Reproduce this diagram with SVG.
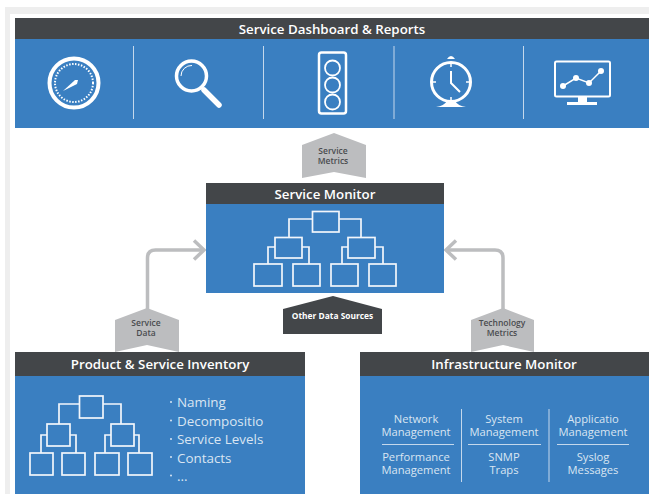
<svg xmlns="http://www.w3.org/2000/svg" width="649" height="494" viewBox="0 0 649 494">
<style>
text{font-family:"Open Sans","Noto Sans","Liberation Sans",sans-serif;text-anchor:middle}
.hd{fill:#434649}.bl{fill:#3a7fc1}
.ht{fill:#fff;font-size:13.300px;font-weight:600}
.tag{fill:#bcbdbf}
.tt{fill:#4a4c4f;font-size:8.500px;font-weight:600}
.it{fill:#d9e5f2;font-size:11.200px}
.li{fill:#d9e5f2;font-size:13.400px;text-anchor:start}
.dv{stroke:#c4d8ec;stroke-width:1;fill:none}
.wb{fill:none;stroke:#f2f6fb;stroke-width:1.700}
.ic{fill:none;stroke:#fff}
.con{fill:none;stroke:#bcbdbf;stroke-width:3.500}
</style>
<rect width="649" height="494" fill="#fff"/>
<path d="M5 7H649V14H10V494H5Z" fill="#eee"/>

<g id="dashboard">
<rect class="hd" x="15" y="18" width="634" height="21"/>
<rect class="bl" x="15" y="39" width="634" height="89"/>
<text class="ht" x="332" y="34">Service Dashboard &amp; Reports</text>
<path class="dv" d="M133.500 46V119M263.500 46V119M394 46V119M523.500 46V119"/>
<g id="icon-gauge">
<circle class="ic" cx="74" cy="83" r="24.500" stroke-width="4"/>
<circle class="ic" cx="74" cy="83" r="19" stroke-width="2" stroke-dasharray="1.500 1.500"/>
<path d="M63 91L75 80L78 80L77 84Z" fill="#fff"/>
</g>
<g id="icon-search">
<circle class="ic" cx="191.500" cy="76" r="15" stroke-width="3.500"/>
<path class="ic" d="M181 76A10.500 10.500 0 0 1 192 65.500" stroke-width="1"/>
<path class="ic" d="M204 90L219 105" stroke-width="5.500" stroke-linecap="round"/>
</g>
<g id="icon-light">
<rect class="ic" x="319" y="52.500" width="27" height="61" rx="2.500" stroke-width="2.500"/>
<circle class="ic" cx="332.500" cy="68" r="7.500" stroke-width="1.800"/>
<circle class="ic" cx="332.500" cy="85" r="7.500" stroke-width="1.800"/>
<circle class="ic" cx="332.500" cy="102" r="7.500" stroke-width="1.800"/>
</g>
<g id="icon-clock">
<circle class="ic" cx="451" cy="82" r="19.500" stroke-width="3"/>
<path class="ic" d="M451 71V83L460 92" stroke-width="2"/>
<path class="ic" d="M451 64V67M451 97V100M433 82H436M466 82H469" stroke-width="1.500"/>
<path d="M447 59Q451 53 455 59Z" fill="#fff"/>
<path d="M436 107Q444 106 447 101H455Q458 106 466 107Z" fill="#fff"/>
</g>
<g id="icon-monitor">
<rect class="ic" x="555" y="61.500" width="55" height="35" rx="1.500" stroke-width="2"/>
<path d="M578 97H587V102H597V105H567V102H578Z" fill="#fff"/>
<path class="ic" d="M563 86L576 78L589 83L601 71" stroke-width="1.500"/>
<g fill="#fff"><circle cx="563" cy="86" r="3"/><circle cx="576" cy="78" r="3"/><circle cx="589" cy="83" r="3"/><circle cx="601" cy="71" r="3"/></g>
</g>
</g>

<g id="connectors">
<path class="con" d="M147.500 310V258Q147.500 250 155.500 250H204"/>
<path class="con" d="M194 240.500L204 250L194 259.500"/>
<path class="con" d="M503 310V258Q503 250 495 250H446"/>
<path class="con" d="M456 240.500L446 250L456 259.500"/>
</g>

<g id="service-metrics">
<path class="tag" d="M302 145L334 133L366 145V178L334 172L302 178Z"/>
<text class="tt" x="333" y="154">Service</text><text class="tt" x="333" y="164">Metrics</text>
</g>

<g id="service-monitor">
<rect class="hd" x="206" y="183" width="238" height="21"/>
<rect class="bl" x="206" y="204" width="238" height="89"/>
<text class="ht" x="325" y="199">Service Monitor</text>
<path class="wb" d="M312.500 219H289V237M339 219H361V237M275 247H268V264M302 247H309V264M348 247H342V264M375 247H383V264"/>
<rect class="wb" x="312.500" y="211.500" width="26.500" height="20.500"/>
<rect class="wb" x="275" y="237.500" width="27" height="20.500"/>
<rect class="wb" x="348" y="237.500" width="27" height="20.500"/>
<rect class="wb" x="254" y="264" width="28" height="22"/>
<rect class="wb" x="293" y="264" width="27" height="22"/>
<rect class="wb" x="331" y="264" width="27" height="22"/>
<rect class="wb" x="369" y="264" width="27" height="22"/>
</g>

<g id="other-data-sources">
<path class="hd" d="M283 309L333 296L382 309V334H283Z"/>
<text x="332.500" y="319" fill="#fff" font-size="8.400" font-weight="700">Other Data Sources</text>
</g>

<g id="service-data">
<path class="tag" d="M115 320L147 308L179 320V352L147 345L115 352Z"/>
<text class="tt" x="146" y="326">Service</text><text class="tt" x="146" y="336">Data</text>
</g>

<g id="technology-metrics">
<path class="tag" d="M471 320L503 308L534 320V352L503 345L471 352Z"/>
<text class="tt" x="502" y="326">Technology</text><text class="tt" x="502" y="336">Metrics</text>
</g>

<g id="inventory">
<rect class="hd" x="15" y="352" width="290" height="24"/>
<rect class="bl" x="15" y="376" width="290" height="118"/>
<text class="ht" x="160" y="369">Product &amp; Service Inventory</text>
<path class="wb" d="M79.500 404H59V424M103 404H121V424M47 435H41V453M70 435H76V453M111 435H105V453M134 435H139V453"/>
<rect class="wb" x="79.500" y="396" width="23.500" height="22"/>
<rect class="wb" x="47" y="424" width="23" height="22"/>
<rect class="wb" x="111" y="424" width="23" height="22"/>
<rect class="wb" x="30" y="453" width="23" height="22"/>
<rect class="wb" x="62" y="453" width="23" height="22"/>
<rect class="wb" x="95" y="453" width="24" height="22"/>
<rect class="wb" x="128" y="453" width="24" height="22"/>
<g fill="#d9e5f2"><circle cx="171" cy="402" r="1"/><circle cx="171" cy="420.500" r="1"/><circle cx="171" cy="439" r="1"/><circle cx="171" cy="457" r="1"/><circle cx="171" cy="475.500" r="1"/></g>
<text class="li" x="177" y="407">Naming</text>
<text class="li" x="177" y="425.500">Decompositio</text>
<text class="li" x="177" y="444">Service Levels</text>
<text class="li" x="177" y="462.500">Contacts</text>
<text class="li" x="177" y="481">...</text>
</g>

<g id="infrastructure">
<rect class="hd" x="360" y="352" width="289" height="24"/>
<rect class="bl" x="360" y="376" width="289" height="118"/>
<text class="ht" x="504" y="369">Infrastructure Monitor</text>
<path class="dv" d="M461.500 409V482M549 409V482M382 444.500H454M468 444.500H541M557 444.500H629"/>
<text class="it" x="416" y="423">Network</text><text class="it" x="416" y="436">Management</text>
<text class="it" x="416" y="460.500">Performance</text><text class="it" x="416" y="473.500">Management</text>
<text class="it" x="504" y="423">System</text><text class="it" x="504" y="436">Management</text>
<text class="it" x="504" y="460.500">SNMP</text><text class="it" x="504" y="473.500">Traps</text>
<text class="it" x="593" y="423">Applicatio</text><text class="it" x="593" y="436">Management</text>
<text class="it" x="593" y="460.500">Syslog</text><text class="it" x="593" y="473.500">Messages</text>
</g>
</svg>
